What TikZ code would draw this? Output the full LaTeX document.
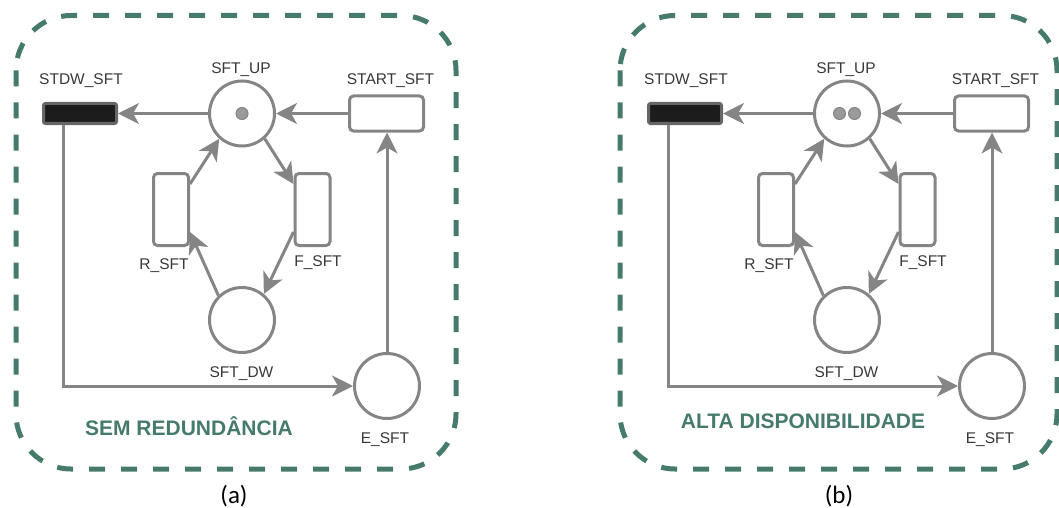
\documentclass[tikz,border=0pt]{standalone}
\usepackage{fontspec}
\setmainfont{Liberation Sans}
\newfontfamily\capfont{Carlito}
\usetikzlibrary{arrows.meta,calc}
\definecolor{petri}{HTML}{858585}
\definecolor{lbl}{HTML}{383838}
\definecolor{frame}{HTML}{457A6C}
\definecolor{tok}{HTML}{9A9A9A}
\definecolor{immfill}{HTML}{1C1C1C}
\definecolor{immdraw}{HTML}{666666}
\begin{document}
\begin{tikzpicture}[x=1pt,y=-1pt,
 place/.style={circle,draw=petri,line width=3pt,minimum size=65pt,inner sep=0pt},
 trans/.style={rectangle,draw=petri,line width=3pt,rounded corners=4pt,inner sep=0pt},
 htrans/.style={trans,minimum width=74pt,minimum height=35pt},
 vtrans/.style={trans,minimum width=35pt,minimum height=72pt},
 imm/.style={rectangle,draw=immdraw,fill=immfill,line width=3pt,rounded corners=2pt,minimum width=73pt,minimum height=20pt,inner sep=0pt},
 token/.style={circle,fill=tok,draw=petri,line width=1pt,minimum size=12pt,inner sep=0pt},
 lab/.style={font=\fontsize{15.5}{18}\selectfont,text=lbl,anchor=base,inner sep=0pt},
 paneltitle/.style={font=\bfseries\fontsize{21}{24}\selectfont,text=frame,anchor=base,inner sep=0pt},
 capt/.style={font=\capfont\fontsize{25}{28}\selectfont,text=black,anchor=base,inner sep=0pt},
 arc/.style={draw=petri,line width=3pt,-{Stealth[length=21pt,width=21pt,inset=6pt]}},
 framebox/.style={draw=frame,line width=5pt,dash pattern=on 16pt off 16pt,rounded corners=55pt},
]
\useasboundingbox (0,0) rectangle (1059,508);

% ---------------- panel (a) ----------------
\draw[framebox] (16,15.5) rectangle (456,469);
\node[imm] (a-stdw) at (80,113.5) {};
\node[place] (a-up) at (242,113.5) {};
\node[htrans] (a-start) at (386.5,113.5) {};
\node[vtrans] (a-r) at (171,209.5) {};
\node[vtrans] (a-f) at (312.5,209.5) {};
\node[place] (a-dw) at (242,320) {};
\node[place] (a-e) at (387,386) {};
\node[token] (a-tok) at (a-up) {};

\node[lab] (a-lstdw) at (81,85) {STDW\_SFT};
\node[lab] (a-lup) at (241,74) {SFT\_UP};
\node[lab] (a-lstart) at (390.5,85) {START\_SFT};
\node[lab] (a-lr) at (164,269) {R\_SFT};
\node[lab] (a-lf) at (318,266) {F\_SFT};
\node[lab] (a-ldw) at (241.5,377) {SFT\_DW};
\node[lab] (a-le) at (385,443) {E\_SFT};
\node[paneltitle] (a-title) at (189,435) {SEM REDUNDÂNCIA};
\node[capt] (a-cap) at (234,503) {(a)};

\draw[arc] (a-up.west) -- (a-stdw.east);
\draw[arc] (a-start.west) -- (a-up.east);
\draw[arc] (a-e.north) -- (a-e.north |- a-start.south);
\draw[arc] ([xshift=-17pt]a-stdw.south) |- (a-e.west);
\draw[arc] (a-up.-48) -- ($(a-f.north west)!0.16!(a-f.south west)$);
\draw[arc] ($(a-f.north west)!0.8!(a-f.south west)$) -- (a-dw.50);
\draw[arc] (a-dw.134) -- ($(a-r.north east)!0.8!(a-r.south east)$);
\draw[arc] ($(a-r.north east)!0.16!(a-r.south east)$) -- (a-up.228);

% ---------------- panel (b) ----------------
\draw[framebox] (620,15.5) rectangle (1057,469);
\node[imm] (b-stdw) at (685,113.5) {};
\node[place] (b-up) at (847,113.5) {};
\node[htrans] (b-start) at (991.5,113.5) {};
\node[vtrans] (b-r) at (776,209.5) {};
\node[vtrans] (b-f) at (917.5,209.5) {};
\node[place] (b-dw) at (847,320) {};
\node[place] (b-e) at (992,386) {};
\node[token] (b-tok1) at (839.5,113.5) {};
\node[token] (b-tok2) at (854.5,113.5) {};

\node[lab] (b-lstdw) at (686,85) {STDW\_SFT};
\node[lab] (b-lup) at (846,74) {SFT\_UP};
\node[lab] (b-lstart) at (995.5,85) {START\_SFT};
\node[lab] (b-lr) at (769,269) {R\_SFT};
\node[lab] (b-lf) at (923,266) {F\_SFT};
\node[lab] (b-ldw) at (846.5,377) {SFT\_DW};
\node[lab] (b-le) at (990,443) {E\_SFT};
\node[paneltitle] (b-title) at (803,428) {ALTA DISPONIBILIDADE};
\node[capt] (b-cap) at (839,503) {(b)};

\draw[arc] (b-up.west) -- (b-stdw.east);
\draw[arc] (b-start.west) -- (b-up.east);
\draw[arc] (b-e.north) -- (b-e.north |- b-start.south);
\draw[arc] ([xshift=-17pt]b-stdw.south) |- (b-e.west);
\draw[arc] (b-up.-48) -- ($(b-f.north west)!0.16!(b-f.south west)$);
\draw[arc] ($(b-f.north west)!0.8!(b-f.south west)$) -- (b-dw.50);
\draw[arc] (b-dw.134) -- ($(b-r.north east)!0.8!(b-r.south east)$);
\draw[arc] ($(b-r.north east)!0.16!(b-r.south east)$) -- (b-up.228);
\end{tikzpicture}
\end{document}
